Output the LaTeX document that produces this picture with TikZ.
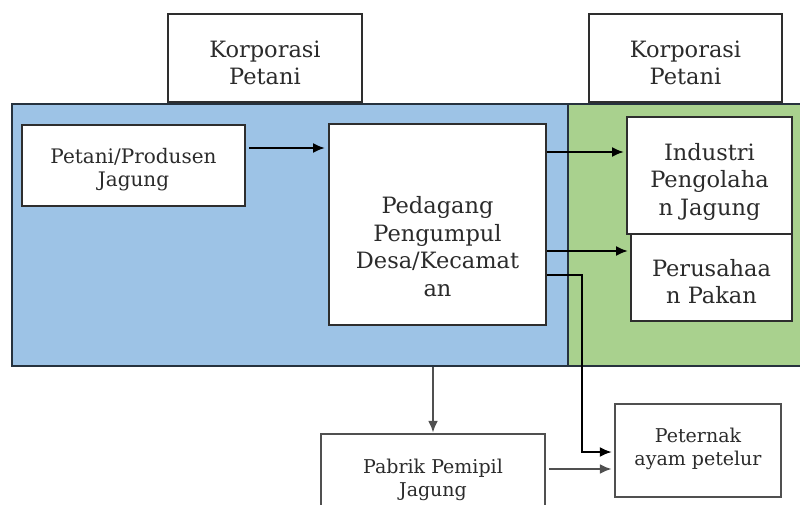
\documentclass[tikz,border=0pt]{standalone}
\usepackage{fontspec}
\setmainfont{DejaVu Serif}
\usetikzlibrary{arrows.meta,calc}

\definecolor{regionblue}{HTML}{9DC3E6}
\definecolor{regiongreen}{HTML}{A9D18E}
\definecolor{frameline}{HTML}{26323E}
\definecolor{boxline}{HTML}{2E2E2E}
\definecolor{softline}{HTML}{505050}
\definecolor{labeltext}{HTML}{2B2B2B}

\tikzset{
  region/.style={draw=frameline, line width=1.8pt, inner sep=0pt},
  unit/.style={draw=boxline, fill=white, line width=2pt, inner sep=0pt},
  softunit/.style={unit, draw=softline, line width=2.4pt},
  caption/.style={inner sep=0pt, text=labeltext, align=center},
  big/.style={font=\fontsize{22.5}{27.5}\selectfont},
  small/.style={font=\fontsize{19}{23}\selectfont},
  flow/.style={draw=black, line width=2pt, -{Latex[length=12pt,width=10pt]}},
  softflow/.style={flow, draw=softline, line width=2.8pt}
}

\begin{document}
\begin{tikzpicture}[x=1pt,y=-1pt]
  \useasboundingbox (0,0) rectangle (800,505);
  \clip (0,0) rectangle (800,505);

  % header boxes
  \node[unit, minimum width=194pt, minimum height=88pt] (korpA) at (265,58) {};
  \node[caption, big] (korpAtext) at ($(korpA)+(0,5)$) {Korporasi\\Petani};
  \node[unit, minimum width=193pt, minimum height=88pt] (korpB) at (685.5,58) {};
  \node[caption, big] (korpBtext) at ($(korpB)+(0,5)$) {Korporasi\\Petani};

  % coloured regions
  \node[region, fill=regionblue, minimum width=556pt, minimum height=262pt] (blue) at (290,235) {};
  \node[region, fill=regiongreen, minimum width=240pt, minimum height=262pt] (green) at (688,235) {};

  % actors inside the regions
  \node[unit, minimum width=223pt, minimum height=81pt] (petani) at (133.5,165.5) {};
  \node[caption, font=\fontsize{20}{23}\selectfont] (petanitext) at ($(petani)+(0,4)$)
    {Petani/Produsen\\Jagung};
  \node[unit, minimum width=217pt, minimum height=201pt] (ped) at (437.5,224.5) {};
  \node[caption, big] (pedtext) at ($(ped)+(0,22)$)
    {Pedagang\\Pengumpul\\Desa/Kecamat\\an};
  \node[unit, minimum width=161pt, minimum height=87pt] (per) at (711.5,277.5) {};
  \node[caption, big] (pertext) at ($(per)+(0,4)$) {Perusahaa\\n Pakan};
  \node[unit, minimum width=165pt, minimum height=117pt] (ind) at (709.5,175.5) {};
  \node[caption, big] (indtext) at ($(ind)+(0,6)$) {Industri\\Pengolaha\\n Jagung};

  % actors below the regions
  \node[softunit, minimum width=224pt, minimum height=80pt] (pab) at (433,474) {};
  \node[caption, small] (pabtext) at ($(pab)+(0,6)$) {Pabrik Pemipil\\Jagung};
  \node[softunit, minimum width=166pt, minimum height=93pt] (pet) at (698,450.5) {};
  \node[caption, small] (pettext) at ($(pet)+(0,-2)$) {Peternak\\ayam petelur};

  % connector end points
  \coordinate (pOut) at ($(petani.east)+(3,-17.5)$);
  \coordinate (dInA) at (ped.west |- pOut);
  \coordinate (dOutA) at ($(ped.north east)+(0,29)$);
  \coordinate (dOutB) at ($(ped.north east)+(0,128)$);
  \coordinate (dOutC) at ($(ped.north east)+(0,152)$);
  \coordinate (bend) at (582,300);
  \coordinate (pabIn) at (pab.north |- blue.south);
  \coordinate (pabOut) at ($(pab.east)+(3,-5)$);

  % flows
  \draw[flow] (pOut) -- ($(dInA)+(-3,0)$);
  \draw[flow] (dOutA) -- ($(ind.west |- dOutA)+(-2,0)$);
  \draw[flow] (dOutB) -- ($(per.west |- dOutB)+(-2,0)$);
  \draw[flow] (dOutC) -| (bend) |- ($(pet.west)+(-2,1.5)$);
  \draw[softflow] (pabIn) -- (pab.north);
  \draw[softflow] (pabOut) -- ($(pet.west |- pabOut)+(-2,0)$);
\end{tikzpicture}
\end{document}
